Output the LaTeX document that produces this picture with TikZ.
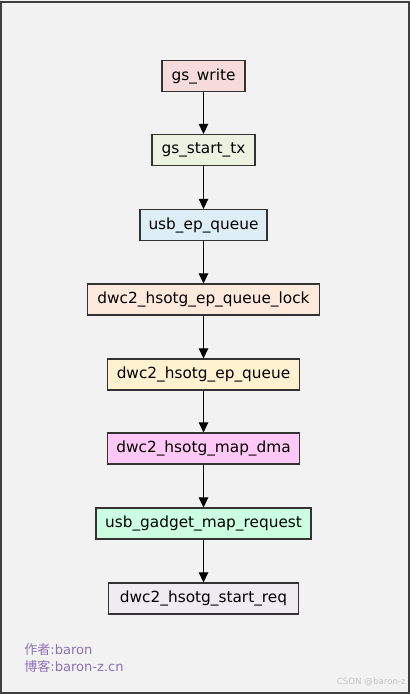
\documentclass[tikz,border=0pt]{standalone}
\usepackage{fontspec}
\setmainfont{DejaVu Sans}
\newfontfamily\cjkfont{Noto Sans CJK SC}
\usetikzlibrary{arrows.meta}
\definecolor{bgc}{HTML}{F2F2F2}
\definecolor{framec}{HTML}{404040}
\definecolor{c1}{HTML}{F5DCDA}
\definecolor{c2}{HTML}{EBF3E0}
\definecolor{c3}{HTML}{DDEEF6}
\definecolor{c4}{HTML}{FDEADC}
\definecolor{c5}{HTML}{FFF2D0}
\definecolor{c6}{HTML}{FFC8F5}
\definecolor{c7}{HTML}{CCFFE2}
\definecolor{c8}{HTML}{EEEBF3}
\definecolor{authc}{HTML}{8E72B8}
\definecolor{wmc}{HTML}{C4C4C4}
\begin{document}
\begin{tikzpicture}[x=0.75pt,y=-0.75pt,
  fbox/.style={draw=black!80,line width=0.8pt,minimum height=31*0.75pt,inner sep=0pt,font=\fontsize{11.5}{13}\selectfont,text=black},
  flow/.style={-{Triangle[length=7.5pt,width=7pt]},line width=0.75pt,black}]
\fill[bgc] (0,0) rectangle (410,694);
\useasboundingbox (0,0) rectangle (410,694);
\draw[framec,line width=1.5pt] (1.5,1.5) rectangle (408.5,692.5);
\node[fbox,fill=c1,minimum width=83*0.75pt] (n1) at (203.5,76) {gs\_write};
\node[fbox,fill=c2,minimum width=103*0.75pt] (n2) at (203.5,150) {gs\_start\_tx};
\node[fbox,fill=c3,minimum width=127*0.75pt] (n3) at (203.5,225) {usb\_ep\_queue};
\node[fbox,fill=c4,minimum width=232*0.75pt] (n4) at (203.5,299.5) {dwc2\_hsotg\_ep\_queue\_lock};
\node[fbox,fill=c5,minimum width=192*0.75pt] (n5) at (203.5,374.5) {dwc2\_hsotg\_ep\_queue};
\node[fbox,fill=c6,minimum width=192*0.75pt] (n6) at (203.5,448.5) {dwc2\_hsotg\_map\_dma};
\node[fbox,fill=c7,minimum width=215*0.75pt] (n7) at (203.5,523.5) {usb\_gadget\_map\_request};
\node[fbox,fill=c8,minimum width=190*0.75pt] (n8) at (203.5,598.5) {dwc2\_hsotg\_start\_req};
\foreach \a/\b in {n1/n2,n2/n3,n3/n4,n4/n5,n5/n6,n6/n7,n7/n8}
  \draw[flow] (\a.south) -- (\b.north);
\node[anchor=west,inner sep=0pt,text=authc,font=\fontsize{9.8}{11}\selectfont] (a1) at (24,650) {{\cjkfont 作者}:baron};
\node[anchor=west,inner sep=0pt,text=authc,font=\fontsize{9.8}{11}\selectfont] (a2) at (24,666) {{\cjkfont 博客}:baron-z.cn};
\node[anchor=east,inner sep=0pt,text=wmc,font=\fontsize{6.5}{7}\selectfont] (wm) at (406,682) {CSDN @baron-z};
\end{tikzpicture}
\end{document}
